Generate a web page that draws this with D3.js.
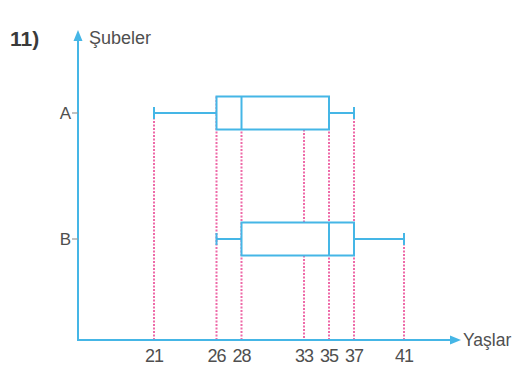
<!DOCTYPE html>
<html><head><meta charset="utf-8">
<script src="https://cdn.jsdelivr.net/npm/d3@7"></script>
<style>body{margin:0;background:#fff}svg{display:block}text{font-family:"Liberation Sans",Arial,sans-serif}</style>
</head><body><svg id="c" width="519" height="372"></svg>
<script>
const categories = ["A", "B"];
const minVals = [21, 26];
const q1Vals = [26, 28];
const medianVals = [28, 35];
const q3Vals = [35, 37];
const maxVals = [37, 41];
const tickValues = [21, 26, 28, 33, 35, 37, 41];
const xTitle = "Yaşlar", yTitle = "Şubeler", qLabel = "11)";

const blue = "#45b6e6", pink = "#ee6aa8", txt = "#4f4f4f";
const svg = d3.select("#c");
const ox = 78, oy = 340;
const x = d3.scaleLinear().domain([21, 41]).range([154, 404]);
const y = d3.scalePoint().domain(categories).range([113, 239]);
const hh = 16.5, cap = 6;

const data = categories.map((c, i) => ({c, min: minVals[i], q1: q1Vals[i], med: medianVals[i], q3: q3Vals[i], max: maxVals[i]}));

// dotted reference lines: from highest element down to x-axis
const lineTop = v => {
  let best = oy;
  data.forEach(d => {
    const yc = y(d.c);
    if (v === d.min || v === d.max) best = Math.min(best, yc - cap);
    else if (v >= d.q1 && v <= d.q3) best = Math.min(best, v === d.q1 || v === d.q3 || v === d.med ? yc - hh : yc + hh);
  });
  return best;
};
svg.append("g").selectAll("line").data(tickValues).join("line")
  .attr("x1", d => x(d)).attr("x2", d => x(d))
  .attr("y1", d => lineTop(d)).attr("y2", oy)
  .attr("stroke", pink).attr("stroke-width", 2).attr("stroke-dasharray", "2,1.5");

// axes
svg.append("line").attr("x1", ox).attr("x2", ox).attr("y1", oy + 1).attr("y2", 38).attr("stroke", blue).attr("stroke-width", 2);
svg.append("path").attr("d", `M${ox},30 L${ox-4.5},41 L${ox+4.5},41 Z`).attr("fill", blue);
svg.append("line").attr("x1", ox - 1).attr("x2", 452).attr("y1", oy).attr("y2", oy).attr("stroke", blue).attr("stroke-width", 2);
svg.append("path").attr("d", `M461,${oy} L450,${oy-4.5} L450,${oy+4.5} Z`).attr("fill", blue);

// y ticks + labels
const yg = svg.append("g");
categories.forEach(c => {
  yg.append("line").attr("x1", ox - 6).attr("x2", ox).attr("y1", y(c)).attr("y2", y(c)).attr("stroke", "#999").attr("stroke-width", 1.2);
  yg.append("text").attr("x", ox - 7).attr("y", y(c) + 6).attr("text-anchor", "end").attr("font-size", 17).attr("fill", txt).text(c);
});

// x tick labels
svg.append("g").selectAll("text").data(tickValues).join("text")
  .attr("x", d => x(d)).attr("y", 362).attr("text-anchor", "middle")
  .attr("font-size", 18).attr("fill", txt).attr("letter-spacing", -1).text(d => d);

// boxes
const g = svg.append("g").attr("stroke", blue).attr("stroke-width", 2).attr("fill", "none");
data.forEach(d => {
  const yc = y(d.c);
  g.append("line").attr("x1", x(d.min)).attr("x2", x(d.q1)).attr("y1", yc).attr("y2", yc);
  g.append("line").attr("x1", x(d.q3)).attr("x2", x(d.max)).attr("y1", yc).attr("y2", yc);
  g.append("line").attr("x1", x(d.min)).attr("x2", x(d.min)).attr("y1", yc - cap).attr("y2", yc + cap);
  g.append("line").attr("x1", x(d.max)).attr("x2", x(d.max)).attr("y1", yc - cap).attr("y2", yc + cap);
  g.append("rect").attr("x", x(d.q1)).attr("y", yc - hh).attr("width", x(d.q3) - x(d.q1)).attr("height", 2 * hh).attr("fill", "#fff");
  g.append("line").attr("x1", x(d.med)).attr("x2", x(d.med)).attr("y1", yc - hh).attr("y2", yc + hh);
});

// titles
svg.append("text").attr("x", 89).attr("y", 44).attr("font-size", 18).attr("fill", txt).text(yTitle);
svg.append("text").attr("x", 463).attr("y", 346).attr("font-size", 17.5).attr("fill", txt).text(xTitle);
svg.append("text").attr("x", 10).attr("y", 46).attr("font-size", 21).attr("font-weight", "bold").attr("fill", "#3a3a3a").text(qLabel);
</script></body></html>
